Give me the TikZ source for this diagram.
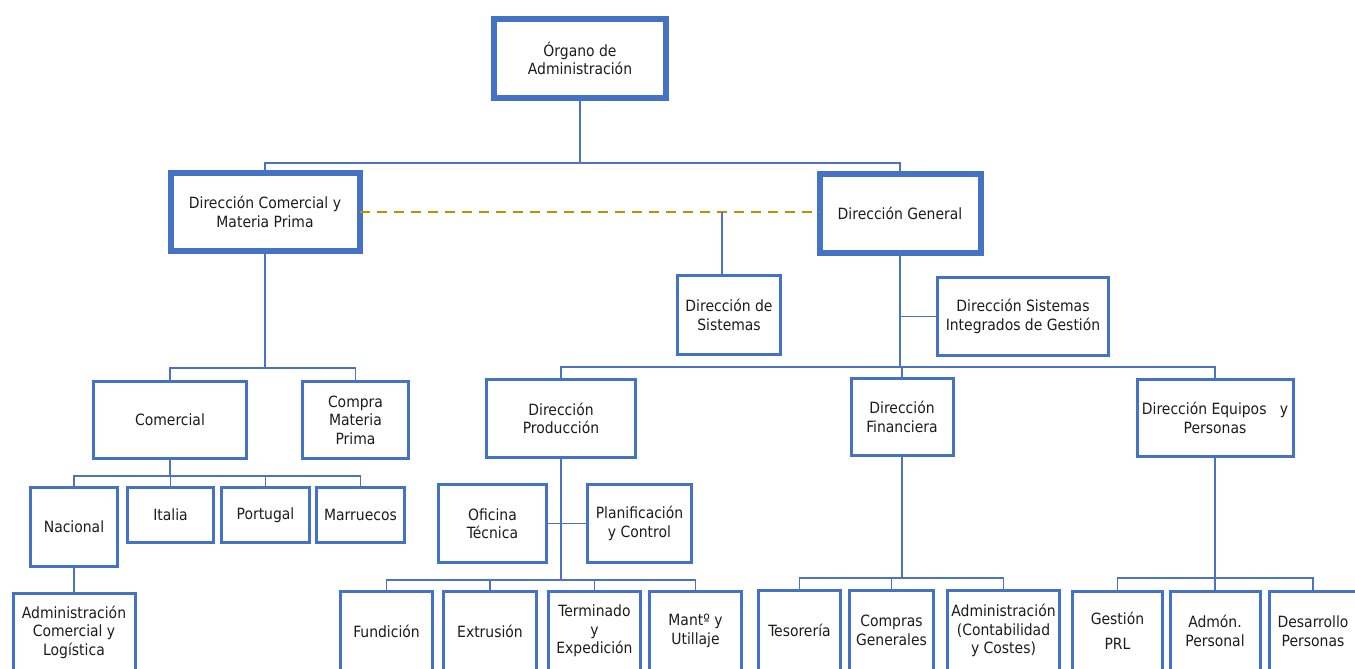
\documentclass[tikz,border=0pt]{standalone}
\usepackage{fontspec}
\setmainfont{DejaVu Sans Condensed}
\begin{document}
\definecolor{boxblue}{HTML}{4472C4}
\definecolor{linkblue}{HTML}{4A74C2}
\definecolor{gold}{HTML}{BF9000}
\definecolor{ink}{HTML}{1C1C1C}
\begin{tikzpicture}[x=1pt,y=-1pt,
  unit/.style={draw=boxblue, line width=3pt, fill=white, inner sep=1pt, outer sep=0pt,
    align=center, text=ink, font=\fontsize{15.5}{18.5}\selectfont},
  head/.style={unit, line width=6pt},
  link/.style={draw=linkblue, line width=1.4pt},
  peer/.style={draw=gold, line width=2.6pt, dash pattern=on 10pt off 7pt}]
\useasboundingbox (0,0) rectangle (1355,669);
\clip (0,0) rectangle (1355,669);

% top level
\node[head, minimum width=172, minimum height=79] (org) at (580,58.5) {Órgano de\\Administración};
\node[head, minimum width=189, minimum height=78] (dcmp) at (265,212) {Dirección Comercial y\\Materia Prima};
\node[head, minimum width=161, minimum height=79] (dg) at (900,213.5) {Dirección General};

% staff units of the general management
\node[unit, minimum width=103, minimum height=79] (ds) at (729,315) {Dirección de\\Sistemas};
\node[unit, minimum width=171, minimum height=78] (dsig) at (1023,316.5) {Dirección Sistemas\\Integrados de Gestión};

% directorates
\node[unit, minimum width=149, minimum height=78] (dp) at (561,418.5) {Dirección\\Producción};
\node[unit, minimum width=102, minimum height=77] (df) at (902,417) {Dirección\\Financiera};
\node[unit, minimum width=156, minimum height=77] (dep) at (1215,418) {Dirección Equipos\ \ \ y\\Personas};

% commercial branch
\node[unit, minimum width=153, minimum height=77] (com) at (170,420) {Comercial};
\node[unit, minimum width=106, minimum height=77] (cmp) at (355.5,420) {Compra\\Materia\\Prima};
\node[unit, minimum width=87, minimum height=79] (nac) at (74,527) {Nacional};
\node[unit, minimum width=86, minimum height=55] (ita) at (170.5,515) {Italia};
\node[unit, minimum width=88, minimum height=55] (por) at (265.5,515) {Portugal};
\node[unit, minimum width=88, minimum height=55] (mar) at (360.5,515) {Marruecos};
\node[unit, minimum width=122, minimum height=77] (acl) at (74,632) {Administración\\Comercial y\\Logística};

% production branch
\node[unit, minimum width=108, minimum height=78] (ot) at (492.5,523.5) {Oficina\\Técnica};
\node[unit, minimum width=104, minimum height=78] (pc) at (639.5,523.5) {Planificación\\y Control};
\node[unit, minimum width=92, minimum height=79] (fun) at (386.5,631) {Fundición};
\node[unit, minimum width=93, minimum height=79] (ext) at (490,631) {Extrusión};
\node[unit, minimum width=92, minimum height=79] (ter) at (594.5,631) {Terminado\\y\\Expedición};
\node[unit, minimum width=92, minimum height=79] (man) at (695.5,631) {Mantº y\\Utillaje};

% finance branch
\node[unit, minimum width=82, minimum height=80] (tes) at (799.5,630.5) {Tesorería};
\node[unit, minimum width=84, minimum height=80] (cg) at (891.5,630.5) {Compras\\Generales};
\node[unit, minimum width=112, minimum height=80] (adm) at (1003.5,630.5) {Administración\\(Contabilidad\\y Costes)};

% people branch
\node[unit, minimum width=90, minimum height=79] (prl) at (1117.5,631) {Gestión\\[7pt]PRL};
\node[unit, minimum width=90, minimum height=79] (ap) at (1215,631) {Admón.\\Personal};
\node[unit, minimum width=87, minimum height=79] (dpe) at (1313,631) {Desarrollo\\Personas};

% bus junctions, aligned with the parent boxes
\coordinate (b0) at (org.south |- 0,163);
\coordinate (b1) at (dg.south |- 0,367);
\coordinate (b2) at (dcmp.south |- 0,368);
\coordinate (b3) at (com.south |- 0,476);
\coordinate (b4) at (dp.south |- 0,580);
\coordinate (b5) at (df.south |- 0,578);
\coordinate (b6) at (dep.south |- 0,578);
\coordinate (dsj) at (722,212);

% top level
\draw[link] (org.south) -- (b0);
\draw[link] (dcmp.north) |- (b0) -| (dg.north);
\draw[peer] (dcmp.east) -- (dcmp.east -| dg.west);
\draw[link] (dsj) -- (dsj |- ds.north);
\draw[link] (dg.south) -- (b1);
\draw[link] (dsig.west) -- (dsig.west -| b1);
\draw[link] (dp.north) |- (b1) -| (dep.north);
\draw[link] (df.north) -- (df.north |- b1);
% commercial
\draw[link] (dcmp.south) -- (b2);
\draw[link] (com.north) |- (b2) -| (cmp.north);
\draw[link] (com.south) -- (b3);
\draw[link] (nac.north) |- (b3) -| (mar.north);
\draw[link] (ita.north) -- (ita.north |- b3);
\draw[link] (por.north) -- (por.north |- b3);
\draw[link] (nac.south) -- (acl.north);
% production
\draw[link] (dp.south) -- (b4);
\draw[link] (ot.east) -- (pc.west);
\draw[link] (fun.north) |- (b4) -| (man.north);
\draw[link] (ext.north) -- (ext.north |- b4);
\draw[link] (ter.north) -- (ter.north |- b4);
% finance
\draw[link] (df.south) -- (b5);
\draw[link] (tes.north) |- (b5) -| (adm.north);
\draw[link] (cg.north) -- (cg.north |- b5);
% people
\draw[link] (dep.south) -- (b6);
\draw[link] (prl.north) |- (b6) -| (dpe.north);
\draw[link] (ap.north) -- (ap.north |- b6);
\end{tikzpicture}
\end{document}
